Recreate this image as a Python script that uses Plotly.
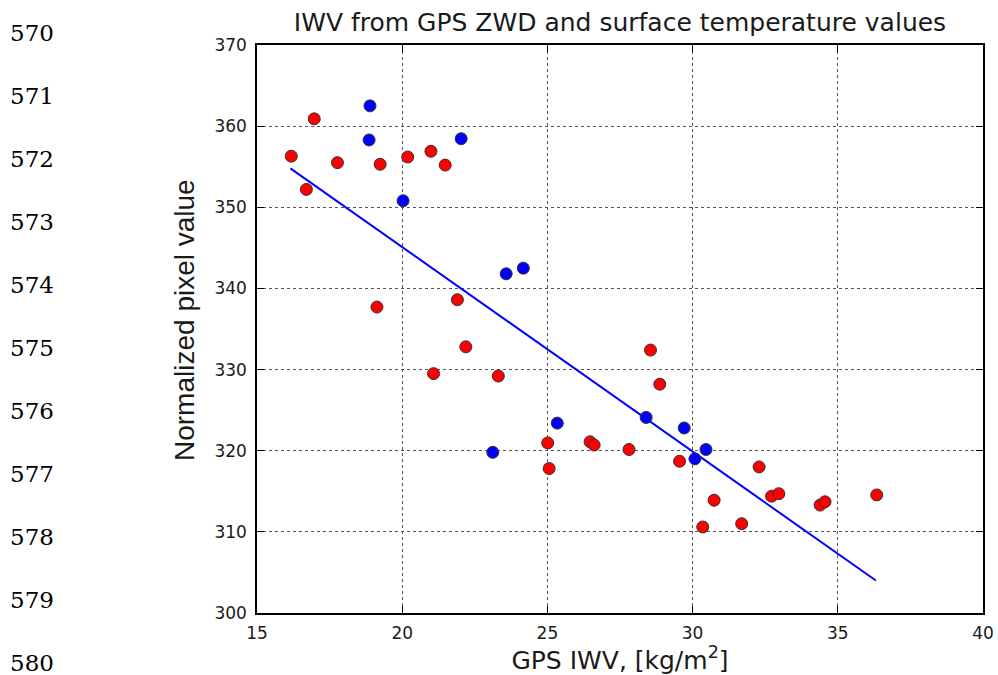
import plotly.graph_objects as go

# Red points (GPS IWV, normalized pixel value)
red_x = [16.18, 16.70, 16.97, 17.77, 19.24, 20.19, 20.99, 21.48, 19.13, 21.90,
         22.19, 21.08, 23.31, 25.01, 25.06, 26.47, 26.61, 28.55, 28.87, 27.81,
         29.55, 32.29, 30.74, 30.35, 31.69, 32.72, 32.97, 34.39, 34.56, 36.34]
red_y = [356.3, 352.2, 360.9, 355.5, 355.3, 356.2, 356.9, 355.2, 337.7, 338.6,
         332.8, 329.5, 329.2, 320.96, 317.8, 321.1, 320.7, 332.4, 328.2, 320.15,
         318.7, 318.0, 313.9, 310.6, 311.0, 314.4, 314.7, 313.3, 313.7, 314.55]

# Blue points
blue_x = [18.89, 18.86, 22.03, 20.03, 23.58, 24.17, 23.12, 25.34, 28.40, 29.71, 30.46, 30.08]
blue_y = [362.5, 358.3, 358.45, 350.8, 341.8, 342.5, 319.8, 323.4, 324.1, 322.8, 320.15, 319.0]

# Regression line end points
fit_x = [16.15, 36.31]
fit_y = [354.8, 304.0]

x_ticks = [15, 20, 25, 30, 35, 40]
y_ticks = [300, 310, 320, 330, 340, 350, 360, 370]

# Manuscript line numbers in the left margin
line_numbers = ["570", "571", "572", "573", "574", "575", "576", "577", "578", "579", "580"]

W, H = 998, 675
L, R, T, B = 257, 15, 45, 62
pw, ph = W - L - R, H - T - B

fig = go.Figure()
fig.add_trace(go.Scatter(x=fit_x, y=fit_y, mode="lines",
                         line=dict(color="#0000ff", width=2), showlegend=False))
fig.add_trace(go.Scatter(x=red_x, y=red_y, mode="markers",
                         marker=dict(color="#ff0000", size=12, line=dict(color="#333333", width=1)),
                         showlegend=False))
fig.add_trace(go.Scatter(x=blue_x, y=blue_y, mode="markers",
                         marker=dict(color="#0000ff", size=12, line=dict(color="#333333", width=1)),
                         showlegend=False))

axis_common = dict(
    showline=True, linecolor="black", linewidth=1.5, mirror="allticks",
    ticks="inside", ticklen=7, tickcolor="black", tickwidth=1,
    showgrid=True, gridcolor="#555555", griddash="dot", gridwidth=1,
    zeroline=False,
    tickfont=dict(family="DejaVu Sans", size=17, color="#1a1a1a"),
)

fig.update_xaxes(range=[15, 40], tickvals=x_ticks, ticktext=[str(v) for v in x_ticks],
                 title=dict(text="GPS IWV, [kg/m<sup>2</sup>]",
                            font=dict(family="DejaVu Sans", size=25, color="#1a1a1a"),
                            standoff=4),
                 ticklabelstandoff=4,
                 **axis_common)
fig.update_yaxes(range=[300, 370], tickvals=y_ticks, ticktext=[str(v) for v in y_ticks],
                 ticklabelstandoff=5,
                 **axis_common)

annotations = []
for i, lab in enumerate(line_numbers):
    py = 33 + i * 63
    annotations.append(dict(text=lab, xref="paper", yref="paper",
                            x=(32 - L) / pw, y=(H - B - py) / ph,
                            xanchor="center", yanchor="middle", showarrow=False,
                            font=dict(family="DejaVu Serif", size=23, color="black")))
annotations.append(dict(text="Normalized pixel value", xref="paper", yref="paper",
                        x=(184 - L) / pw, y=(H - B - 320) / ph, textangle=-90,
                        xanchor="center", yanchor="middle", showarrow=False,
                        font=dict(family="Liberation Sans", size=28, color="#1a1a1a")))

fig.update_layout(
    width=W, height=H,
    margin=dict(l=L, r=R, t=T, b=B, autoexpand=False),
    paper_bgcolor="white", plot_bgcolor="white",
    title=dict(text="IWV from GPS ZWD and surface temperature values",
               x=0.5, xref="paper", xanchor="center",
               y=1 - 22 / H, yref="container", yanchor="middle",
               font=dict(family="DejaVu Sans", size=25, color="#1a1a1a")),
    annotations=annotations,
)

fig.write_html("out.html", config={"displayModeBar": False},
               post_script="document.body.style.margin='0';document.body.style.overflow='hidden';")
